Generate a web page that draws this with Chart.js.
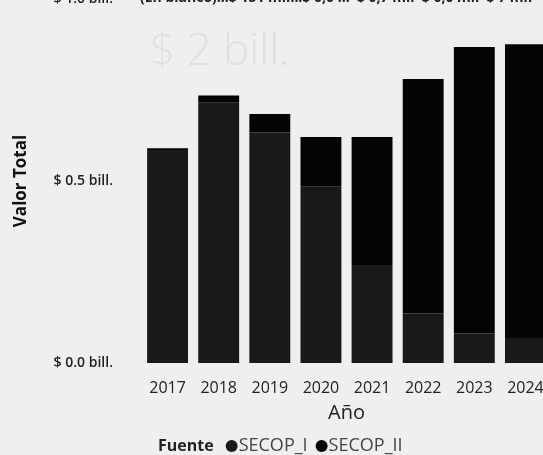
<!DOCTYPE html>
<html>
<head>
<meta charset="utf-8">
<script src="https://cdn.jsdelivr.net/npm/chart.js@4"></script>
<style>
  html, body { margin: 0; padding: 0; background: #efefef; overflow: hidden; }
  body { width: 543px; height: 455px; position: relative; }
  #wrap { position: absolute; left: 0; top: -40px; }
</style>
</head>
<body>
<div id="wrap"><canvas id="chartValor" width="560" height="495"></canvas></div>
<script>
const anios = ['2017', '2018', '2019', '2020', '2021', '2022', '2023', '2024'];
// valores en billones de pesos
const secopI  = [0.585, 0.715, 0.634, 0.484, 0.269, 0.137, 0.082, 0.069];
const secopII = [0.005, 0.02, 0.05, 0.137, 0.352, 0.643, 0.786, 0.807];
const fuentes = ['SECOP_I', 'SECOP_II'];
const colores = ['#191919', '#040404'];
const etiquetasArriba = '(En blanco)...$ 151 mil...$ 0,0 ...  $ 0,7 mil  $ 0,0 mil  $ 7 mil';

const fuente = "'Open Sans', sans-serif";

// leyenda "Fuente ● SECOP_I ● SECOP_II" en una sola linea
const leyendaPlugin = {
  id: 'leyenda',
  afterDraw(chart) {
    const c = chart.ctx;
    const y = 486;
    let x = 158;
    c.save();
    c.textBaseline = 'middle';
    c.textAlign = 'left';
    c.font = 'bold 16px ' + fuente;
    c.fillStyle = '#222';
    c.fillText('Fuente', x, y);
    x += c.measureText('Fuente').width + 12;
    c.font = '18px ' + fuente;
    chart.data.datasets.forEach((ds) => {
      c.fillStyle = ds.backgroundColor;
      c.beginPath();
      c.arc(x + 6, y, 6, 0, Math.PI * 2);
      c.fill();
      x += 13;
      c.fillStyle = '#444';
      c.fillText(ds.label, x, y);
      x += c.measureText(ds.label).width + 8;
    });
    // texto cortado arriba
    c.font = 'bold 14px ' + fuente;
    c.fillStyle = '#222';
    c.fillText(etiquetasArriba, 140, 38);
    // texto fantasma de fondo
    c.font = '300 44px ' + fuente;
    c.fillStyle = '#e0e0e0';
    c.fillText('$ 2 bill.', 150, 92);
    c.restore();
  }
};

let chartValor = new Chart(document.getElementById('chartValor'), {
  type: 'bar',
  data: {
    labels: anios,
    datasets: [
      { label: fuentes[0], data: secopI, backgroundColor: colores[0] },
      { label: fuentes[1], data: secopII, backgroundColor: colores[1] }
    ]
  },
  options: {
    responsive: false,
    animation: false,
    layout: { padding: { top: 39, right: 9, bottom: 30, left: 0 } },
    datasets: { bar: { categoryPercentage: 1, barPercentage: 0.8 } },
    plugins: { legend: { display: false }, tooltip: { enabled: false } },
    scales: {
      x: {
        stacked: true,
        grid: { display: false },
        border: { display: false },
        ticks: { color: '#222', padding: 8, font: { family: fuente, size: 16 } },
        title: { display: true, text: 'Año', color: '#222', padding: 0, font: { family: fuente, size: 20 } },
        afterFit(s) { s.height = 62; }
      },
      y: {
        stacked: true,
        min: 0,
        max: 1,
        grid: { display: false, drawTicks: false },
        border: { display: false },
        ticks: {
          stepSize: 0.5,
          padding: 29,
          color: '#222',
          font: { family: fuente, size: 14, weight: '600' },
          callback: (v) => '$ ' + v.toFixed(1) + ' bill.'
        },
        title: { display: true, text: 'Valor Total', color: '#111', padding: { top: 11 }, font: { family: fuente, size: 17, weight: 'bold' } },
        afterFit(s) { s.width = 142; }
      }
    }
  },
  plugins: [leyendaPlugin]
});
</script>
</body>
</html>
